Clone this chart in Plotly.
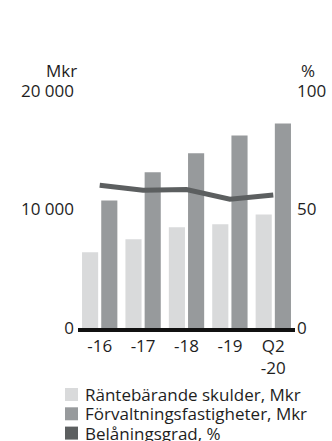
import plotly.graph_objects as go

# Data
categories = ["-16", "-17", "-18", "-19", "Q2<br>-20"]
rantebarande_skulder = [6400, 7480, 8500, 8750, 9580]          # Mkr
forvaltningsfastigheter = [10750, 13150, 14750, 16250, 17250]  # Mkr
belaningsgrad = [60.2, 58.1, 58.4, 54.3, 56.1]                 # %

left_tickvals = [0, 10000, 20000]
left_ticktext = ["0", "10 000", "20 000"]
right_tickvals = [0, 50, 100]
right_ticktext = ["0", "50", "100"]

legend_labels = ["Räntebärande skulder, Mkr", "Förvaltningsfastigheter, Mkr", "Belåningsgrad, %"]

C_LIGHT = "#d9dadb"
C_MID = "#979a9c"
C_DARK = "#5c5f60"
TXT = "#1e1e1e"
FONT = "Open Sans"
FS = 17

W, H = 332, 441
L, R, T, B = 78, 37, 91, 113
PW, PH = W - L - R, H - T - B


def px(x):
    return (x - L) / PW


def py(y):
    return (H - B - y) / PH


fig = go.Figure()
fig.add_trace(go.Bar(x=categories, y=rantebarande_skulder, name=legend_labels[0],
                     marker=dict(color=C_LIGHT, line=dict(width=0)), showlegend=False))
fig.add_trace(go.Bar(x=categories, y=forvaltningsfastigheter, name=legend_labels[1],
                     marker=dict(color=C_MID, line=dict(width=0)), showlegend=False))
fig.add_trace(go.Scatter(x=categories, y=belaningsgrad, name=legend_labels[2], yaxis="y2",
                         mode="lines", line=dict(color=C_DARK, width=5), showlegend=False))

# Legend: swatches and labels below the chart
shapes = []
annotations = []
legend_colors = [C_LIGHT, C_MID, C_DARK]
for i, (lab, col) in enumerate(zip(legend_labels, legend_colors)):
    cy = 394.5 + i * 19.3
    shapes.append(dict(type="rect", xref="paper", yref="paper",
                       x0=px(65), x1=px(78), y0=py(cy - 6.5), y1=py(cy + 6.5),
                       fillcolor=col, line=dict(width=0)))
    annotations.append(dict(text=lab, xref="paper", yref="paper", x=px(83), y=py(cy),
                            xanchor="left", yanchor="middle", showarrow=False,
                            font=dict(size=FS, color=TXT, family=FONT)))

# Axis unit labels
annotations.append(dict(text="Mkr", xref="paper", yref="paper", x=px(79), y=py(70),
                        xanchor="right", yanchor="middle", showarrow=False,
                        font=dict(size=FS, color=TXT, family=FONT)))
annotations.append(dict(text="%", xref="paper", yref="paper", x=px(299), y=py(70),
                        xanchor="left", yanchor="middle", showarrow=False,
                        font=dict(size=FS, color=TXT, family=FONT)))

fig.update_layout(
    width=W, height=H,
    margin=dict(l=L, r=R, t=T, b=B, pad=0, autoexpand=False),
    paper_bgcolor="white", plot_bgcolor="white",
    barmode="group", bargap=0.115, bargroupgap=0.16,
    font=dict(family=FONT, size=FS, color=TXT),
    xaxis=dict(showgrid=False, zeroline=False, showline=True, linecolor="#111111", linewidth=3.5,
               ticks="", tickfont=dict(size=FS, color=TXT), ticklabelstandoff=0,
               automargin=False, fixedrange=True),
    yaxis=dict(range=[0, 20000], tickvals=left_tickvals, ticktext=left_ticktext,
               showgrid=False, zeroline=False, showline=False, ticks="",
               tickfont=dict(size=FS, color=TXT), ticklabelstandoff=3, automargin=False),
    yaxis2=dict(range=[0, 100], tickvals=right_tickvals, ticktext=right_ticktext,
                overlaying="y", side="right", showgrid=False, zeroline=False,
                showline=False, ticks="", tickfont=dict(size=FS, color=TXT),
                ticklabelstandoff=1, automargin=False),
    shapes=shapes,
    annotations=annotations,
)

fig.write_html("out.html")
